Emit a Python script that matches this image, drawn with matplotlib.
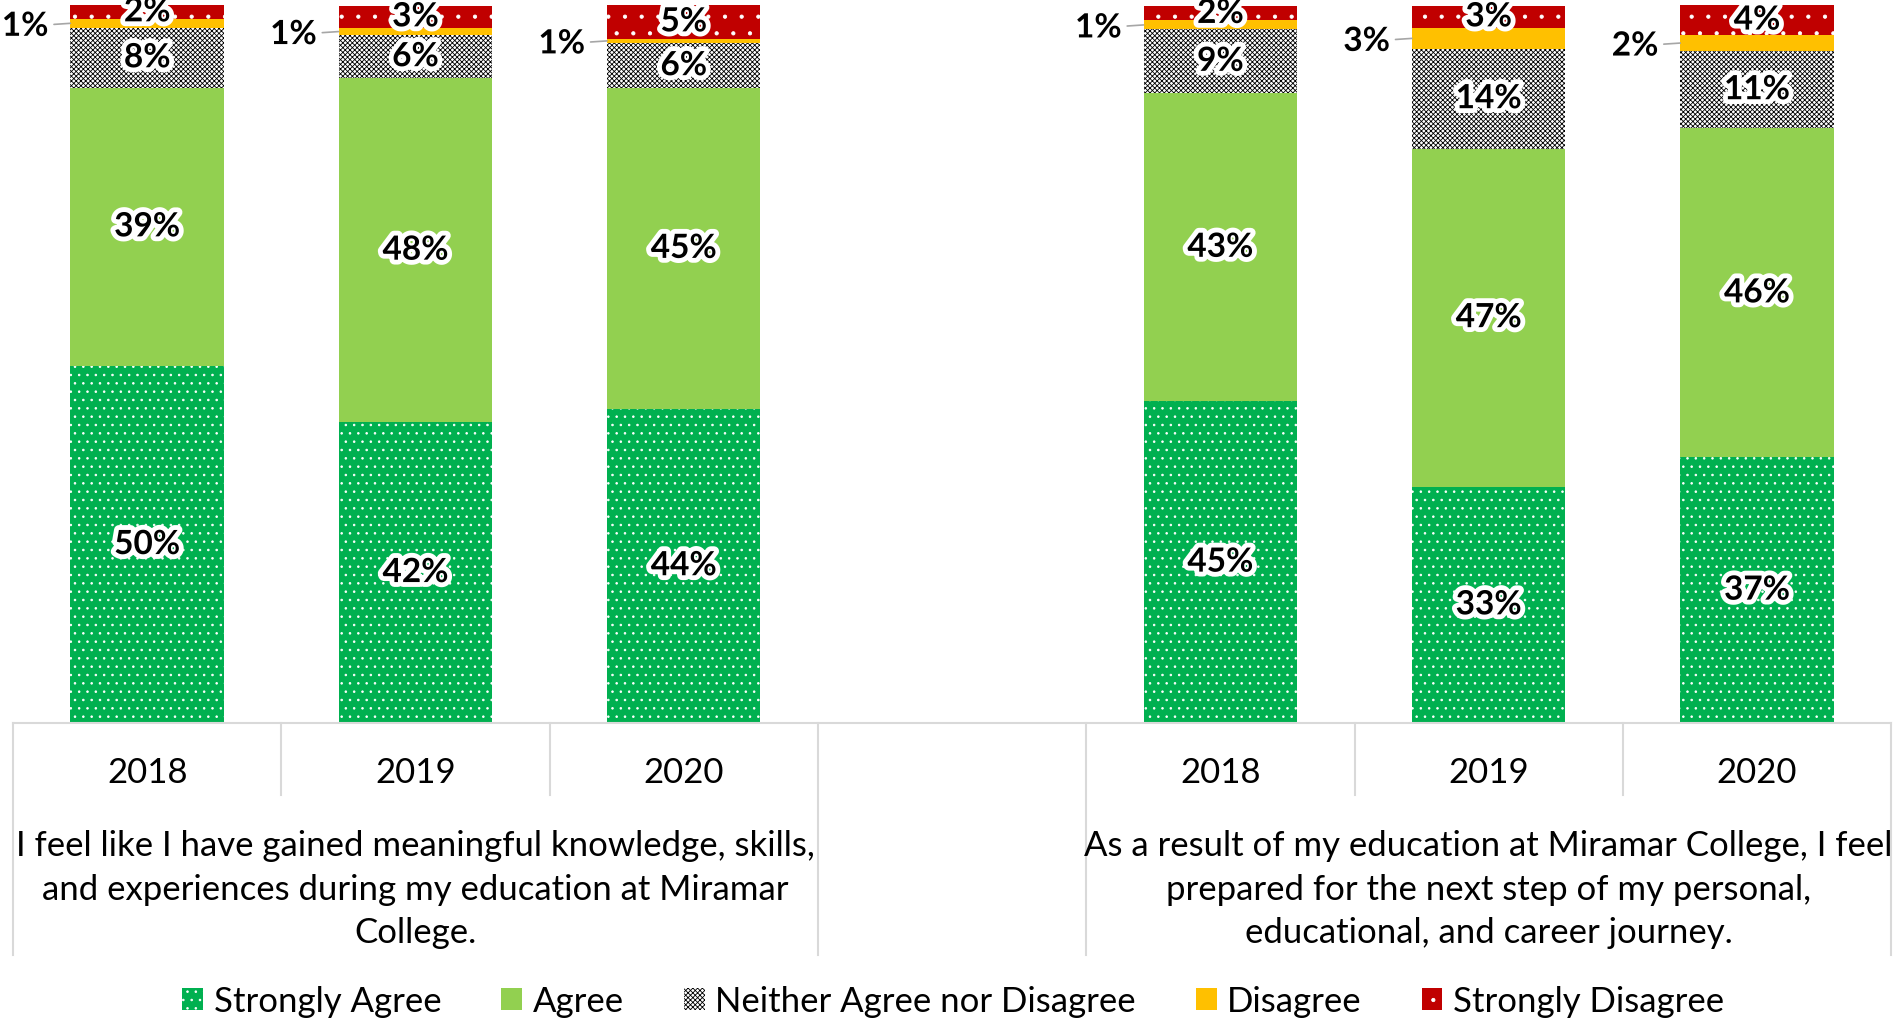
import matplotlib.pyplot as plt
import matplotlib.patheffects as pe
from matplotlib.patches import Patch
import numpy as np

plt.rcParams['font.family'] = ['Lato', 'DejaVu Sans']
plt.rcParams['hatch.linewidth'] = 0.6

# Survey data (share of respondents), bars in order: Q1 2018-2020, Q2 2018-2020
years = ["2018", "2019", "2020"]
questions = [
    "I feel like I have gained meaningful knowledge, skills,\n"
    "and experiences during my education at Miramar\nCollege.",
    "As a result of my education at Miramar College, I feel\n"
    "prepared for the next step of my personal,\neducational, and career journey.",
]
levels = ["Strongly Agree", "Agree", "Neither Agree nor Disagree",
          "Disagree", "Strongly Disagree"]

strongly_agree    = [0.497, 0.419, 0.438, 0.448, 0.329, 0.370]
agree             = [0.388, 0.479, 0.446, 0.429, 0.471, 0.458]
neither           = [0.083, 0.060, 0.063, 0.089, 0.139, 0.108]
disagree          = [0.013, 0.010, 0.006, 0.0125, 0.029, 0.022]
strongly_disagree = [0.019, 0.031, 0.047, 0.0195, 0.031, 0.042]

# (face colour, hatch colour, hatch)
STYLES = {
    "Strongly Agree":             ("#00B050", "white", ".."),
    "Agree":                      ("#92D050", "#92D050", None),
    "Neither Agree nor Disagree": ("white", "black", "xxxxxxx"),
    "Disagree":                   ("#FFC000", "#FFC000", None),
    "Strongly Disagree":          ("#C00000", "white", "."),
}
GRID = "#D9D9D9"
FS = 25        # category / legend text
FS_LAB = 24    # data labels
BAR_W = 0.572


def main() -> None:
    series = [strongly_agree, agree, neither, disagree, strongly_disagree]

    # category slots: 3 years, an empty slot, 3 years
    n_years = len(years)
    x = np.concatenate([np.arange(n_years) + g * (n_years + 1)
                        for g in range(len(questions))])

    fig = plt.figure(figsize=(18.95, 10.21), dpi=100)
    ax = fig.add_axes([0.00686, 0.2919, 0.9911, 0.7032])

    glow = [pe.withStroke(linewidth=7, foreground="white")]
    bottom = np.zeros(len(x))
    for name, vals in zip(levels, series):
        vals = np.array(vals)
        face, hcol, hatch = STYLES[name]
        ax.bar(x, vals, bottom=bottom, width=BAR_W, color=face,
               edgecolor=hcol, linewidth=0, hatch=hatch, zorder=2)
        for xi, b, v in zip(x, bottom, vals):
            lab = f"{round(v * 100)}%"
            yc = b + v / 2
            if name == "Disagree":
                ax.annotate(lab, xy=(xi - BAR_W / 2, yc), xytext=(-22, -3),
                            textcoords="offset pixels", ha="right", va="center",
                            fontsize=FS_LAB, fontweight="bold", path_effects=glow,
                            arrowprops=dict(arrowstyle="-", color="#A6A6A6",
                                            lw=1.2, shrinkA=2, shrinkB=0),
                            annotation_clip=False, zorder=5)
            else:
                ax.text(xi, yc, lab, ha="center", va="center", fontsize=FS_LAB,
                        fontweight="bold", path_effects=glow, zorder=5)
        bottom += vals

    ax.set_xlim(-0.5, x.max() + 0.5)
    ax.set_ylim(0, 1.0)
    ax.axis("off")

    # category table below the bars
    tr = ax.get_xaxis_transform()
    ax.plot([-0.5, x.max() + 0.5], [0, 0], color=GRID, lw=1.5,
            transform=tr, clip_on=False)
    for g, q in enumerate(questions):
        gx = x[g * n_years:(g + 1) * n_years]
        for xi, yr in zip(gx, years):
            ax.text(xi, -0.07, yr, ha="center", va="center", fontsize=FS,
                    transform=tr)
        for edge in gx[1:] - 0.5:
            ax.plot([edge, edge], [0, -0.1], color=GRID, lw=1.5,
                    transform=tr, clip_on=False)
        for edge in (gx[0] - 0.5, gx[-1] + 0.5):
            ax.plot([edge, edge], [0, -0.323], color=GRID, lw=1.5,
                    transform=tr, clip_on=False)
        ax.text(gx.mean(), -0.232, q, ha="center", va="center", fontsize=FS,
                linespacing=1.45, transform=tr)

    handles = []
    for name in levels:
        face, hcol, hatch = STYLES[name]
        handles.append(Patch(facecolor=face, edgecolor=hcol, linewidth=0,
                             hatch=hatch, label=name))
    fig.legend(handles=handles, loc="center", bbox_to_anchor=(0.503, 0.019),
               ncol=5, frameon=False, fontsize=FS, handlelength=0.6,
               handleheight=0.6, handletextpad=0.3, columnspacing=1.73)

    fig.savefig("out.png", dpi=100)


if __name__ == "__main__":
    main()
